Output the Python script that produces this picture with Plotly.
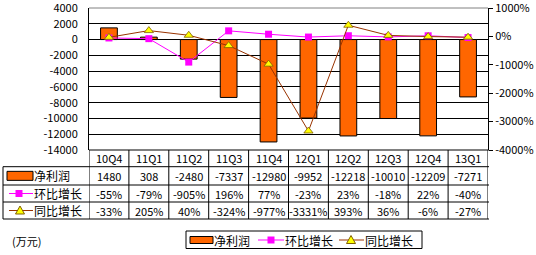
import plotly.graph_objects as go

quarters = ["10Q4", "11Q1", "11Q2", "11Q3", "11Q4", "12Q1", "12Q2", "12Q3", "12Q4", "13Q1"]
net_profit = [1480, 308, -2480, -7337, -12980, -9952, -12218, -10010, -12209, -7271]
qoq = [-55, -79, -905, 196, 77, -23, 23, -18, 22, -40]
yoy = [-33, 205, 40, -324, -977, -3331, 393, 36, -6, -27]
left_ticks = list(range(4000, -14001, -2000))
right_ticks = [1000, 0, -1000, -2000, -3000, -4000]
names = ["净利润", "环比增长", "同比增长"]
unit = "(万元)"

ORANGE = "#FF6600"
MAGENTA = "#FF00FF"
BROWN = "#993300"
YELLOW = "#FFFF00"
FONT = "Noto Sans CJK SC"

W, H = 536, 255
L, R, T, B = 89, 48, 8, 105
pw = W - L - R
ph = H - T - B


def fx(px):
    return (px - L) / pw


def fy(py):
    return (T + ph - py) / ph


fig = go.Figure()
fig.add_trace(go.Bar(x=quarters, y=net_profit, name=names[0], width=0.42,
                     marker=dict(color=ORANGE, line=dict(color="black", width=1))))
fig.add_trace(go.Scatter(x=quarters, y=qoq, name=names[1], yaxis="y2", mode="lines+markers",
                         line=dict(color=MAGENTA, width=1),
                         marker=dict(symbol="square", size=7, color=MAGENTA)))
fig.add_trace(go.Scatter(x=quarters, y=yoy, name=names[2], yaxis="y2", mode="lines+markers",
                         line=dict(color=BROWN, width=1),
                         marker=dict(symbol="triangle-up", size=8, color=YELLOW,
                                     line=dict(color="#806000", width=0.8))))

shapes = []
annotations = []


def hline(x0, x1, py, color="black"):
    shapes.append(dict(type="line", xref="paper", yref="paper", x0=fx(x0), x1=fx(x1),
                       y0=fy(py), y1=fy(py), line=dict(color=color, width=1)))


def vline(px, y0, y1):
    shapes.append(dict(type="line", xref="paper", yref="paper", x0=fx(px), x1=fx(px),
                       y0=fy(y0), y1=fy(y1), line=dict(color="black", width=1)))


def text(px, py, s, size=11, anchor="left", xref="paper"):
    annotations.append(dict(x=fx(px) if xref == "paper" else px, y=fy(py), xref=xref, yref="paper",
                            text=s, showarrow=False, xanchor=anchor, yanchor="middle",
                            font=dict(family=FONT, size=size, color="black")))


def rect(x0, x1, y0, y1, fill, lw=1, lc="black"):
    shapes.append(dict(type="rect", xref="paper", yref="paper", x0=fx(x0), x1=fx(x1),
                       y0=fy(y0), y1=fy(y1), fillcolor=fill, line=dict(color=lc, width=lw)))


def square(cx, cy, s=7):
    rect(cx - s / 2, cx + s / 2, cy - s / 2, cy + s / 2, MAGENTA, 0, MAGENTA)


def tri(cx, cy):
    pts = [(cx, cy - 4.5), (cx - 4.5, cy + 3.5), (cx + 4.5, cy + 3.5)]
    path = "M " + " L ".join(f"{fx(a)},{fy(b)}" for a, b in pts) + " Z"
    shapes.append(dict(type="path", xref="paper", yref="paper", path=path,
                       fillcolor=YELLOW, line=dict(color="#806000", width=1)))


# top border
hline(L, L + pw, T, "#808080")

# table grid
rows = [150, 166.7, 185, 202, 219]
hline(L, L + pw + 1, rows[0])
for py in rows[1:]:
    hline(3, L + pw + 1, py)
vline(3, rows[1], rows[-1])
for i in range(len(quarters) + 1):
    shapes.append(dict(type="line", xref="x", yref="paper", x0=i - 0.5, x1=i - 0.5,
                       y0=fy(rows[0]), y1=fy(rows[-1]), line=dict(color="black", width=1)))

centers = [(rows[k] + rows[k + 1]) / 2 for k in range(4)]
for i, q in enumerate(quarters):
    text(i, centers[0], q, 11, "center", "x")
    text(i, centers[1], str(net_profit[i]), 11, "center", "x")
    text(i, centers[2], f"{qoq[i]}%", 11, "center", "x")
    text(i, centers[3], f"{yoy[i]}%", 11, "center", "x")

# row labels
rect(7, 33, centers[1] - 4.5, centers[1] + 4.5, ORANGE)
text(32, centers[1], names[0], 12)
hline(9, 33, centers[2], MAGENTA)
square(19, centers[2])
text(32, centers[2], names[1], 12)
hline(9, 33, centers[3], BROWN)
tri(20, centers[3])
text(32, centers[3], names[2], 12)

# unit
text(10, 241, unit, 11)

# legend
rect(186, 422, 231, 248.5, "white")
lc = 240
rect(190, 213, lc - 3.5, lc + 3.5, ORANGE)
text(212, lc, names[0], 12)
hline(258, 284, lc, MAGENTA)
square(271, lc)
text(283, lc, names[1], 12)
hline(339, 364, lc, BROWN)
tri(351, lc)
text(363, lc, names[2], 12)

fig.update_layout(
    width=W, height=H,
    margin=dict(l=L, r=R, t=T, b=B, pad=0, autoexpand=False),
    paper_bgcolor="white", plot_bgcolor="white",
    showlegend=False,
    bargap=0.58,
    font=dict(family=FONT, size=11, color="black"),
    xaxis=dict(type="category", range=[-0.5, 9.5], showticklabels=False, showgrid=False,
               zeroline=False, showline=False, ticks="", automargin=False),
    yaxis=dict(range=[-14000, 4000.5], tickvals=left_ticks, ticktext=[str(v) for v in left_ticks],
               showgrid=True, gridcolor="black", gridwidth=1, zeroline=True, zerolinecolor="black",
               zerolinewidth=1, showline=True, linecolor="black", linewidth=1, ticks="",
               ticklabelstandoff=8, ticklabeloverflow="allow", automargin=False,
               tickfont=dict(family=FONT, size=11, color="black")),
    yaxis2=dict(range=[-4000, 1000.1], overlaying="y", side="right", tickvals=right_ticks,
                ticktext=[f"{v}%" for v in right_ticks], showgrid=False, zeroline=False,
                showline=True, linecolor="black", linewidth=1, ticks="outside", ticklen=4,
                tickcolor="black", automargin=False, ticklabeloverflow="allow",
                tickfont=dict(family=FONT, size=11, color="black")),
    shapes=shapes,
    annotations=annotations,
)

fig.write_html("out.html")
